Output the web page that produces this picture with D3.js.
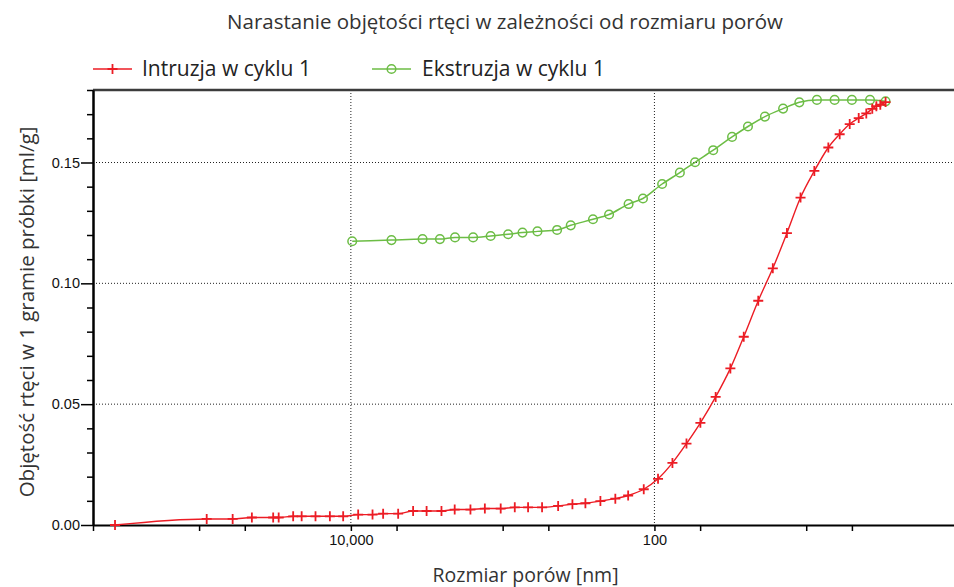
<!DOCTYPE html>
<html>
<head>
<meta charset="utf-8">
<script src="https://cdn.jsdelivr.net/npm/d3@7"></script>
<style>
  body { margin: 0; background: #fff; }
  svg { display: block; overflow: hidden; }
</style>
</head>
<body>
<div class="canvas"></div>
<script>
const WIDTH = 954;
const HEIGHT = 587;
const margin = { top: 90, right: -4, bottom: 62, left: 93 };

const graphWidth = WIDTH - margin.left - margin.right;
const graphHeight = HEIGHT - margin.top - margin.bottom;

// pore size [nm] and cumulative volume [ml/g], intrusion cycle 1
const intrusionSize = [358000, 89100, 60100, 44900, 32500, 29900, 24000, 21100, 17100, 13750,
  11240, 8950, 7200, 6130, 4880, 3890, 3170, 2530, 2070, 1630, 1310, 1030, 832, 680, 550,
  431, 347, 285, 227, 181, 149, 117.6, 94.7, 76.1, 61.5, 49.8, 39.5, 31.6, 25.8, 20.7,
  16.6, 13.4, 10.9, 8.84, 7.15, 6.02, 5.17, 4.51, 4.02, 3.67, 3.45, 3.25, 3.0];
const intrusionVolume = [0.0000, 0.0025, 0.0025, 0.0031, 0.0031, 0.0031, 0.0036, 0.0036, 0.0036, 0.0036,
  0.0036, 0.0043, 0.0043, 0.0047, 0.0047, 0.0058, 0.0058, 0.0058, 0.0064, 0.0064, 0.0068, 0.0068, 0.0073, 0.0073, 0.0073,
  0.0079, 0.0086, 0.0090, 0.0099, 0.0109, 0.0122, 0.0148, 0.0191, 0.0257, 0.0337, 0.0423, 0.0530, 0.0648, 0.0779, 0.0928,
  0.1062, 0.1208, 0.1355, 0.1465, 0.1562, 0.1617, 0.1659, 0.1684, 0.1703, 0.1722, 0.1733, 0.1739, 0.1750];

// extrusion cycle 1
const extrusionSize = [9800, 5400, 3370, 2590, 2060, 1565, 1200, 920, 740, 590, 438, 356, 254, 199,
  148, 119, 89, 68, 54, 41, 30.8, 24.2, 18.7, 14.2, 11.1, 8.5, 6.5, 5.0, 3.8, 3.0];
const extrusionVolume = [0.1174, 0.1179, 0.1183, 0.1183, 0.1190, 0.1190, 0.1196, 0.1203, 0.1210, 0.1215, 0.1221, 0.1240, 0.1265, 0.1285,
  0.1328, 0.1351, 0.1411, 0.1458, 0.1501, 0.1551, 0.1606, 0.1649, 0.1690, 0.1723, 0.1749, 0.1759, 0.1759, 0.1759, 0.1759, 0.1753];

const xTicks = [500000, 100000, 50000, 10000, 5000, 1000, 500, 100, 50, 10, 5, 1];
const xLabels = [10000, 100];
const yLabels = [0, 0.05, 0.10, 0.15];
const yMinor = [0.01, 0.02, 0.03, 0.04, 0.06, 0.07, 0.08, 0.09, 0.11, 0.12, 0.13, 0.14, 0.16, 0.17, 0.18];

const RED = '#ec1c24';
const GREEN = '#6cbd45';
const textFont = '"Open Sans", Lato, sans-serif';
const tickFont = '"Liberation Sans", Arial, sans-serif';

const svg = d3.select('.canvas')
  .append('svg')
    .attr('width', WIDTH)
    .attr('height', HEIGHT);

const graphGroup = svg.append('g')
  .attr('transform', `translate(${margin.left},${margin.top})`);

// size axis runs from large pores on the left to small on the right
const x = d3.scaleLog()
  .domain([500000, 1])
  .range([0, graphWidth]);

const y = d3.scaleLinear()
  .domain([0, 0.18])
  .range([graphHeight, 0]);

// dotted grid
graphGroup.append('g')
  .selectAll('line')
  .data(yLabels.filter(d => d > 0))
  .enter().append('line')
    .attr('x1', 0).attr('x2', graphWidth)
    .attr('y1', d => y(d)).attr('y2', d => y(d))
    .attr('stroke', '#222').attr('stroke-width', 1)
    .attr('stroke-dasharray', '1,2');

graphGroup.append('g')
  .selectAll('line')
  .data(xLabels)
  .enter().append('line')
    .attr('x1', d => x(d)).attr('x2', d => x(d))
    .attr('y1', 0).attr('y2', graphHeight)
    .attr('stroke', '#222').attr('stroke-width', 1)
    .attr('stroke-dasharray', '1,2');

// top frame
graphGroup.append('line')
  .attr('x1', 0).attr('x2', graphWidth)
  .attr('y1', 0).attr('y2', 0)
  .attr('stroke', '#3c3c3c').attr('stroke-width', 2.5);

// axes
const xAxisGroup = graphGroup.append('g')
  .attr('transform', `translate(0,${graphHeight})`)
  .call(d3.axisBottom(x)
    .tickValues(xTicks)
    .tickSize(6)
    .tickSizeOuter(0)
    .tickPadding(4)
    .tickFormat(d => xLabels.includes(d) ? d3.format(',')(d) : ''));

const yMinorGroup = graphGroup.append('g')
  .call(d3.axisLeft(y)
    .tickValues(yMinor)
    .tickSize(6)
    .tickSizeOuter(0)
    .tickFormat(''));

const yAxisGroup = graphGroup.append('g')
  .call(d3.axisLeft(y)
    .tickValues(yLabels)
    .tickSize(12)
    .tickSizeOuter(0)
    .tickPadding(1)
    .tickFormat(d3.format('.2f')));

[xAxisGroup, yMinorGroup, yAxisGroup].forEach(g => {
  g.select('.domain').attr('stroke', '#000').attr('stroke-width', 2);
  g.selectAll('.tick line').attr('stroke', '#000').attr('stroke-width', 1.5);
  g.selectAll('text')
    .attr('fill', '#111')
    .style('font-family', tickFont)
    .style('font-size', '14.5px');
});

// curves
const intrusion = intrusionSize.map((s, i) => ({ size: s, volume: intrusionVolume[i] }));
const extrusion = extrusionSize.map((s, i) => ({ size: s, volume: extrusionVolume[i] }));

const line = d3.line()
  .x(d => x(d.size))
  .y(d => y(d.volume))
  .curve(d3.curveMonotoneX);

graphGroup.append('path')
  .datum(extrusion)
  .attr('d', line)
  .attr('fill', 'none')
  .attr('stroke', GREEN)
  .attr('stroke-width', 1.5);

graphGroup.append('g')
  .selectAll('circle')
  .data(extrusion)
  .enter().append('circle')
    .attr('cx', d => x(d.size))
    .attr('cy', d => y(d.volume))
    .attr('r', 4.3)
    .attr('fill', 'none')
    .attr('stroke', GREEN)
    .attr('stroke-width', 1.5);

graphGroup.append('path')
  .datum(intrusion)
  .attr('d', line)
  .attr('fill', 'none')
  .attr('stroke', RED)
  .attr('stroke-width', 1.4);

graphGroup.append('g')
  .selectAll('path')
  .data(intrusion)
  .enter().append('path')
    .attr('transform', d => `translate(${x(d.size)},${y(d.volume)})`)
    .attr('d', 'M-5,0H5M0,-5V5')
    .attr('stroke', RED)
    .attr('stroke-width', 1.8);

// title and axis titles
svg.append('text')
  .attr('x', 505)
  .attr('y', 29)
  .attr('text-anchor', 'middle')
  .attr('fill', '#333')
  .style('font-family', textFont)
  .style('font-size', '20.5px')
  .text('Narastanie objętości rtęci w zależności od rozmiaru porów');

svg.append('text')
  .attr('x', margin.left + x(Math.sqrt(500000)))
  .attr('y', 582)
  .attr('text-anchor', 'middle')
  .attr('fill', '#333')
  .style('font-family', textFont)
  .style('font-size', '19.5px')
  .text('Rozmiar porów [nm]');

svg.append('text')
  .attr('transform', 'translate(34,312) rotate(-90)')
  .attr('text-anchor', 'middle')
  .attr('fill', '#333')
  .style('font-family', textFont)
  .style('font-size', '20.5px')
  .text('Objętość rtęci w 1 gramie próbki [ml/g]');

// legend
const legend = svg.append('g');

const red = legend.append('g').attr('transform', 'translate(93,69)');
red.append('line').attr('x1', 0).attr('x2', 39)
  .attr('stroke', RED).attr('stroke-width', 1.4);
red.append('path').attr('d', 'M14.5,0H24.5M19.5,-5V5')
  .attr('stroke', RED).attr('stroke-width', 1.8);
red.append('text').attr('x', 49).attr('y', 7)
  .attr('fill', '#222')
  .style('font-family', textFont).style('font-size', '21px')
  .text('Intruzja w cyklu 1');

const green = legend.append('g').attr('transform', 'translate(372,69)');
green.append('line').attr('x1', 0).attr('x2', 39)
  .attr('stroke', GREEN).attr('stroke-width', 1.5);
green.append('circle').attr('cx', 19.5).attr('r', 4.3)
  .attr('fill', 'none').attr('stroke', GREEN).attr('stroke-width', 1.5);
green.append('text').attr('x', 50).attr('y', 7)
  .attr('fill', '#222')
  .style('font-family', textFont).style('font-size', '21px')
  .text('Ekstruzja w cyklu 1');
</script>
</body>
</html>
